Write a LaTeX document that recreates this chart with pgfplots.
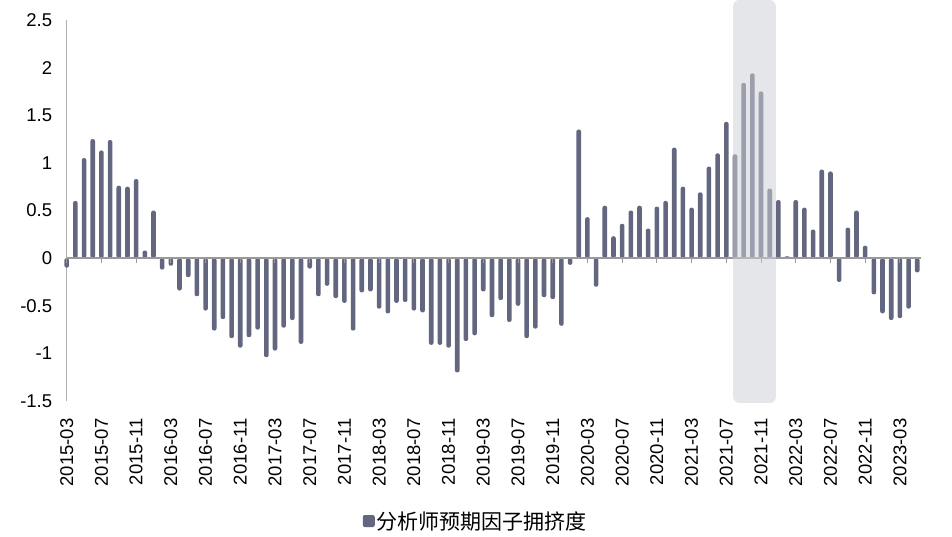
\documentclass[border=0pt]{standalone}
\usepackage{fontspec}
\setmainfont{Liberation Sans}
\newfontfamily\cjk{Noto Sans CJK SC}
\usepackage{pgfplots}
\usepackage{pgfplotstable}
\pgfplotsset{compat=1.18}

\definecolor{barcol}{HTML}{62677F}
\definecolor{hilite}{HTML}{CDCFD7}
\definecolor{axgray}{HTML}{B0B0B0}
\definecolor{zerogray}{HTML}{999999}

% monthly values, 0 = 2015-03
\pgfplotstableread{
i v
0 -0.10
1 0.60
2 1.05
3 1.25
4 1.13
5 1.24
6 0.76
7 0.75
8 0.83
9 0.08
10 0.50
11 -0.12
12 -0.08
13 -0.34
14 -0.20
15 -0.40
16 -0.55
17 -0.76
18 -0.64
19 -0.84
20 -0.94
21 -0.83
22 -0.75
23 -1.04
24 -0.97
25 -0.73
26 -0.65
27 -0.90
28 -0.11
29 -0.40
30 -0.29
31 -0.42
32 -0.47
33 -0.76
34 -0.36
35 -0.35
36 -0.53
37 -0.58
38 -0.47
39 -0.46
40 -0.55
41 -0.57
42 -0.91
43 -0.91
44 -0.94
45 -1.20
46 -0.87
47 -0.81
48 -0.35
49 -0.62
50 -0.44
51 -0.67
52 -0.50
53 -0.84
54 -0.74
55 -0.41
56 -0.43
57 -0.71
58 -0.07
59 1.35
60 0.43
61 -0.30
62 0.55
63 0.23
64 0.36
65 0.50
66 0.55
67 0.31
68 0.54
69 0.60
70 1.16
71 0.75
72 0.53
73 0.69
74 0.96
75 1.10
76 1.43
77 1.09
78 1.84
79 1.94
80 1.75
81 0.73
82 0.61
83 0.02
84 0.61
85 0.53
86 0.30
87 0.93
88 0.91
89 -0.25
90 0.32
91 0.50
92 0.13
93 -0.38
94 -0.58
95 -0.65
96 -0.63
97 -0.53
98 -0.15
}\crowding

\begin{document}
\begin{tikzpicture}
\begin{axis}[
    scale only axis,
    width=854pt, height=381pt,
    xmin=0, xmax=98.4,
    ymin=-1.5, ymax=2.5,
    clip=false,
    axis x line=bottom,
    axis y line=left,
    axis line style={-},
    x axis line style={draw=none},
    y axis line style={axgray, line width=1.3pt},
    tick style={draw=none},
    major tick length=0pt,
    ytick={-1.5,-1,-0.5,0,0.5,1,1.5,2,2.5},
    yticklabels={-1.5,-1,-0.5,0,0.5,1,1.5,2,2.5},
    yticklabel style={font=\fontsize{18.5}{20}\selectfont, xshift=-11pt},
    xtick={0,4,...,96},
    xticklabels={2015-03,2015-07,2015-11,2016-03,2016-07,2016-11,2017-03,2017-07,2017-11,
      2018-03,2018-07,2018-11,2019-03,2019-07,2019-11,2020-03,2020-07,2020-11,
      2021-03,2021-07,2021-11,2022-03,2022-07,2022-11,2023-03},
    xticklabel style={font=\fontsize{18.5}{20}\selectfont, rotate=90, anchor=east, xshift=-14pt},
    legend style={draw=none, at={(0.479,-0.315)}, anchor=center,
      font=\cjk\fontsize{21}{24}\selectfont, inner sep=0pt},
    legend image code/.code={\fill[barcol] (0pt,-6pt) rectangle (12pt,6pt);},
]
\addplot[ybar, bar width=4.6pt, fill=barcol, draw=none, rounded corners=2pt] table[x=i, y=v] {\crowding};
\addlegendentry{分析师预期因子拥挤度}
\draw[zerogray, line width=1.3pt] (axis cs:0,0) -- (axis cs:98.4,0);
\pgfplotsinvokeforeach{0,4,...,96}{\draw[zerogray, line width=1pt] (axis cs:#1,0) -- ([yshift=-5pt]axis cs:#1,0);}
\fill[hilite, opacity=0.53, rounded corners=6pt] (axis cs:76.8,-1.52) rectangle (axis cs:81.7,2.71);
\end{axis}
\pgfresetboundingbox
\path[use as bounding box] (-66.7pt,-135pt) rectangle (885.3pt,401pt);
\end{tikzpicture}
\end{document}
